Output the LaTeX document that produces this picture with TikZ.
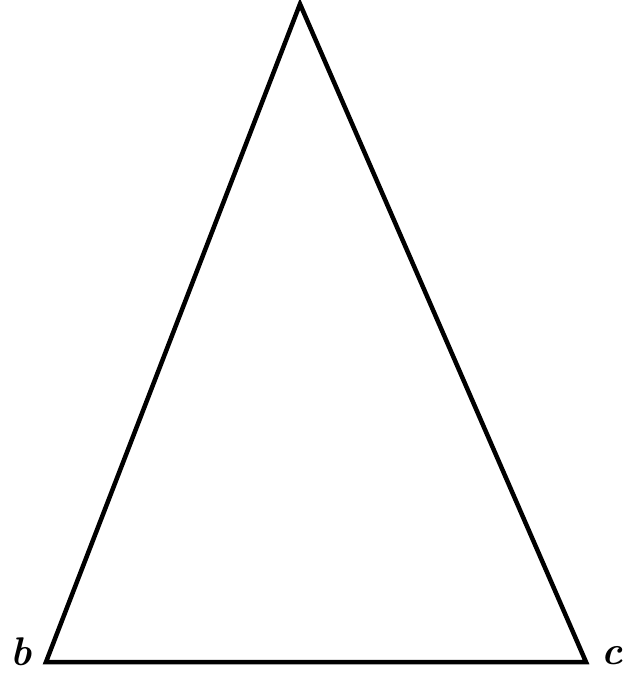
\documentclass[tikz,border=0pt]{standalone}
\begin{document}
\begin{tikzpicture}[x=1pt,y=-1pt]
  \tikzset{
    side/.style={line width=4.5pt, line join=miter},
    vlabel/.style={font=\fontsize{40}{40}\selectfont\itshape\bfseries, inner sep=0pt}
  }
  \useasboundingbox (0,0) rectangle (629,677);
  \coordinate (A) at (300,4);
  \coordinate (B) at (46,662);
  \coordinate (C) at (586,662);

  \draw[side] (A) -- (B) -- (C) -- cycle;

  \node[vlabel] (Lb) at (21,652) {b};
  \node[vlabel] (Lc) at (612,656) {c};
\end{tikzpicture}
\end{document}
